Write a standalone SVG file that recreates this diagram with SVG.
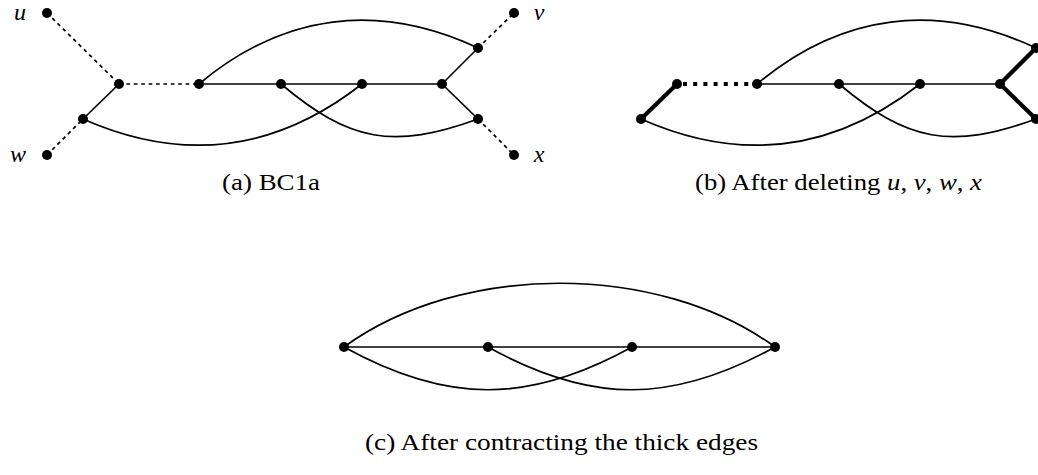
<svg xmlns="http://www.w3.org/2000/svg" width="1038" height="475" viewBox="0 0 1038 475">
<style>
.e{fill:none;stroke:#000;stroke-width:1.7}
.d{fill:none;stroke:#000;stroke-width:1.7;stroke-dasharray:3.7 3.7}
.t{fill:none;stroke:#000;stroke-width:4.2}
.td{fill:none;stroke:#000;stroke-width:4.2;stroke-dasharray:4 6.2}
.n{fill:#000}
.lab{font-family:"Liberation Serif","DejaVu Serif",serif;font-size:24px;font-style:italic;fill:#000}
.cap{font-family:"Liberation Serif","DejaVu Serif",serif;font-size:23px;fill:#000}
</style>
<rect width="1038" height="475" fill="#fff"/>
<g id="connectors">
  <line class="d" x1="47" y1="13" x2="119" y2="84"/>
  <line class="d" x1="47" y1="155" x2="83" y2="119"/>
  <line class="e" x1="119" y1="84" x2="83" y2="119"/>
  <line class="d" x1="119" y1="84" x2="199" y2="84"/>
  <line class="e" x1="199" y1="84" x2="442" y2="84"/>
  <line class="e" x1="442" y1="84" x2="478" y2="48"/>
  <line class="e" x1="442" y1="84" x2="478" y2="119"/>
  <line class="d" x1="478" y1="48" x2="514" y2="13"/>
  <line class="d" x1="478" y1="119" x2="514" y2="155"/>
  <path class="e" d="M199,84 C283.3,13.3 378.3,1.5 478,48"/>
  <path class="e" d="M83,119 C183.5,163.5 275.5,151.8 362,84"/>
  <path class="e" d="M281,84 C349.9,142 393.4,149.7 478,119"/>
  <line class="t" x1="677" y1="84" x2="641" y2="119"/>
  <line class="td" x1="683" y1="84" x2="753" y2="84"/>
  <line class="e" x1="757" y1="84" x2="1000" y2="84"/>
  <line class="t" x1="1000" y1="84" x2="1036" y2="48"/>
  <line class="t" x1="1000" y1="84" x2="1036" y2="119"/>
  <path class="e" d="M757,84 C841.3,13.3 936.3,1.5 1036,48"/>
  <path class="e" d="M641,119 C741.5,163.5 833.5,151.8 920,84"/>
  <path class="e" d="M839,84 C907.9,142 951.4,149.7 1036,119"/>
  <line class="e" x1="344" y1="347" x2="775" y2="347"/>
  <path class="e" d="M344,347 C461,262 658,262 775,347"/>
  <path class="e" d="M344,347 C447,404 529,404 632,347"/>
  <path class="e" d="M488,347 C591,404 672,404 775,347"/>
</g>
<g id="panel-a-nodes">
  <g id="u"><circle class="n" cx="47" cy="13" r="5"/><text class="lab" x="20" y="20" text-anchor="middle">u</text></g>
  <g id="w"><circle class="n" cx="47" cy="155" r="5"/><text class="lab" x="18" y="162" text-anchor="middle">w</text></g>
  <g id="v"><circle class="n" cx="514" cy="13" r="5"/><text class="lab" x="539" y="20" text-anchor="middle">v</text></g>
  <g id="x"><circle class="n" cx="514" cy="155" r="5"/><text class="lab" x="539" y="162" text-anchor="middle">x</text></g>
  <g id="a1"><circle class="n" cx="119" cy="84" r="5"/></g>
  <g id="a2"><circle class="n" cx="83" cy="119" r="5"/></g>
  <g id="a3"><circle class="n" cx="199" cy="84" r="5"/></g>
  <g id="a4"><circle class="n" cx="281" cy="84" r="5"/></g>
  <g id="a5"><circle class="n" cx="362" cy="84" r="5"/></g>
  <g id="a6"><circle class="n" cx="442" cy="84" r="5"/></g>
  <g id="a7"><circle class="n" cx="478" cy="48" r="5"/></g>
  <g id="a8"><circle class="n" cx="478" cy="119" r="5"/></g>
</g>
<g id="panel-b-nodes">
  <g id="b1"><circle class="n" cx="677" cy="84" r="5"/></g>
  <g id="b2"><circle class="n" cx="641" cy="119" r="5"/></g>
  <g id="b3"><circle class="n" cx="757" cy="84" r="5"/></g>
  <g id="b4"><circle class="n" cx="839" cy="84" r="5"/></g>
  <g id="b5"><circle class="n" cx="920" cy="84" r="5"/></g>
  <g id="b6"><circle class="n" cx="1000" cy="84" r="5"/></g>
  <g id="b7"><circle class="n" cx="1036" cy="48" r="5"/></g>
  <g id="b8"><circle class="n" cx="1036" cy="119" r="5"/></g>
</g>
<g id="panel-c-nodes">
  <g id="c1"><circle class="n" cx="344" cy="347" r="5"/></g>
  <g id="c2"><circle class="n" cx="488" cy="347" r="5"/></g>
  <g id="c3"><circle class="n" cx="632" cy="347" r="5"/></g>
  <g id="c4"><circle class="n" cx="775" cy="347" r="5"/></g>
</g>
<g id="captions">
  <text class="cap" x="222" y="190" textLength="98" lengthAdjust="spacingAndGlyphs">(a) BC1a</text>
  <text class="cap" x="695" y="190" textLength="287" lengthAdjust="spacingAndGlyphs">(b) After deleting <tspan font-style="italic">u</tspan>, <tspan font-style="italic">v</tspan>, <tspan font-style="italic">w</tspan>, <tspan font-style="italic">x</tspan></text>
  <text class="cap" x="365" y="450" textLength="393" lengthAdjust="spacingAndGlyphs">(c) After contracting the thick edges</text>
</g>
</svg>
